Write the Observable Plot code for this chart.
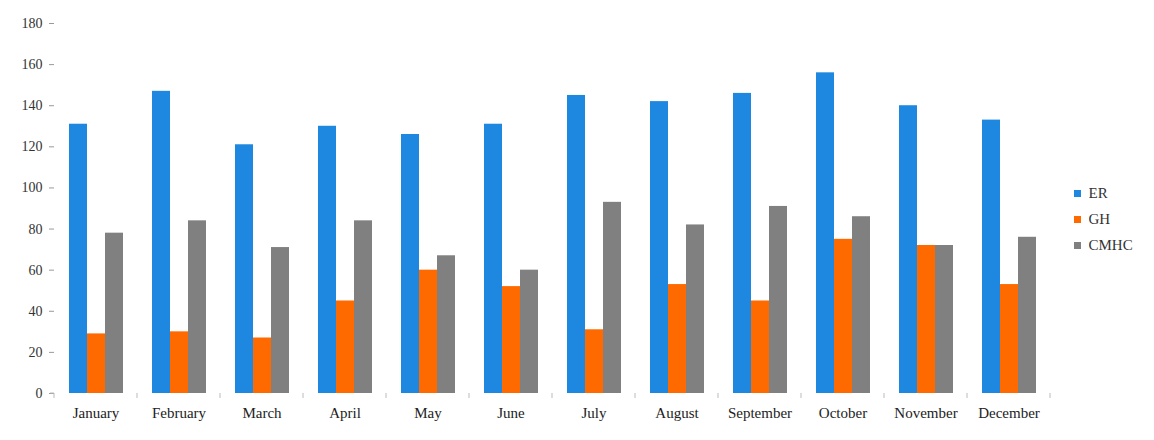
<!DOCTYPE html>
<html>
<head>
<meta charset="utf-8">
<script src="https://cdn.jsdelivr.net/npm/d3@7"></script>
<script src="https://cdn.jsdelivr.net/npm/@observablehq/plot@0.6"></script>
<style>
  html, body { margin: 0; padding: 0; background: #fff; }
  #wrap { position: relative; width: 1154px; height: 440px; }
  #leg { position: absolute; left: 1074px; top: 181px; font-family: "Liberation Serif", serif; font-size: 15px; color: #333; }
  #leg div { line-height: 25px; }
</style>
</head>
<body>
<div id="wrap"></div>
<script>
const months = ["January","February","March","April","May","June","July","August","September","October","November","December"];
const series = ["ER","GH","CMHC"];
const erValues   = [131,147,121,130,126,131,145,142,146,156,140,133];
const ghValues   = [29,30,27,45,60,52,31,53,45,75,72,53];
const cmhcValues = [78,84,71,84,67,60,93,82,91,86,72,76];
const colors = ["#1e88e0","#ff6a00","#808080"];
const yTicks = [0,20,40,60,80,100,120,140,160,180];

const valuesBySeries = {ER: erValues, GH: ghValues, CMHC: cmhcValues};
const rows = [];
months.forEach((m, i) => series.forEach(s => rows.push({month: m, series: s, value: valuesBySeries[s][i]})));

const chart = Plot.plot({
  width: 1154,
  height: 440,
  marginLeft: 53,
  marginRight: 103,
  marginTop: 23,
  marginBottom: 47,
  style: {fontFamily: "Liberation Serif, serif", fontSize: "14px", color: "#333", background: "#fff"},
  fx: {domain: months, padding: 0, label: null},
  x: {domain: series, paddingInner: 0, paddingOuter: 0.77, axis: null},
  y: {domain: [0, 180], label: null},
  color: {domain: series, range: colors},
  marks: [
    Plot.barY(rows, {fx: "month", x: "series", y: "value", fill: "series"}),
    Plot.axisY({ticks: yTicks, tickSize: 5, tickPadding: 7, stroke: "#999", fill: "#333", label: null}),
    Plot.axisFx({anchor: "bottom", tickSize: 0, tickPadding: 14, label: null, fill: "#222", fontSize: 15})
  ]
});
document.getElementById("wrap").appendChild(chart);

// faint category boundary ticks
const fx = chart.scale("fx");
const yb = 440 - 47;
const bounds = months.map(m => fx.apply(m)).concat([fx.apply(months[months.length - 1]) + fx.bandwidth]);
const g = d3.select(chart).append("g").attr("stroke", "#bbb").attr("stroke-width", 1);
g.append("line").attr("x1", bounds[0] - 4).attr("x2", bounds[0]).attr("y1", yb).attr("y2", yb);
bounds.forEach(b => g.append("line").attr("x1", b).attr("x2", b).attr("y1", yb).attr("y2", yb + 5));

const leg = Plot.legend({
  color: {domain: series, range: colors},
  legend: "swatches", columns: 1, swatchSize: 7,
  style: {fontFamily: "Liberation Serif, serif", fontSize: "15px", color: "#333"}
});
const legWrap = document.createElement("div");
legWrap.id = "leg";
legWrap.appendChild(leg);
document.getElementById("wrap").appendChild(legWrap);
</script>
</body>
</html>
